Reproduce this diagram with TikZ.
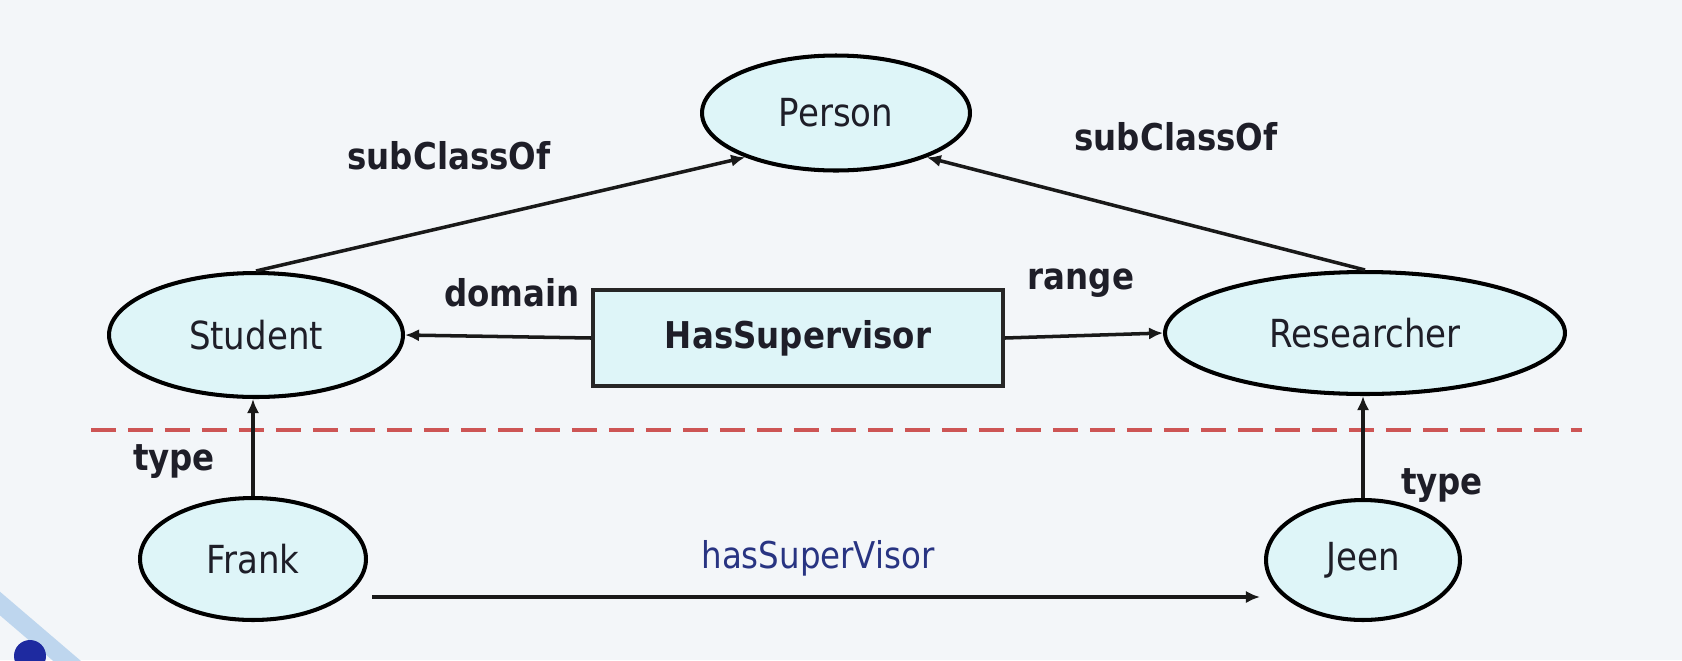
\documentclass[tikz,border=0pt]{standalone}
\usepackage{fontspec}
\setmainfont{DejaVu Sans}[FakeStretch=0.88]
\usetikzlibrary{shapes.geometric,arrows.meta,calc}
\definecolor{bgc}{RGB}{243,246,249}
\definecolor{fillc}{RGB}{222,245,248}
\definecolor{redd}{RGB}{205,85,85}
\definecolor{navy}{RGB}{40,52,130}
\definecolor{txt}{RGB}{30,30,40}
\definecolor{stripe}{RGB}{190,214,238}
\definecolor{dot}{RGB}{30,42,160}
\tikzset{
  cls/.style={ellipse, draw=black, fill=fillc, line width=2.3pt, inner sep=0pt, text=txt, font=\fontsize{22}{26}\selectfont},
  prop/.style={rectangle, draw=black!85, fill=fillc, line width=2.3pt, inner sep=0pt, text=txt, font=\bfseries\fontsize{21}{25}\selectfont},
  lbl/.style={text=txt, font=\bfseries\fontsize{21}{25}\selectfont, inner sep=0pt},
  conn/.style={line width=2pt, black!90, -{Latex[length=8pt,width=7pt]}},
  sep/.style={line width=2.4pt, redd, dash pattern=on 0.5cm off 0.24cm}
}
\begin{document}
\begin{tikzpicture}[x=0.02cm,y=-0.02cm]
\fill[bgc] (0,0) rectangle (1682,660);
\useasboundingbox (0,0) rectangle (1682,660);
% decoration bottom-left
\draw[stripe, line width=0.36cm] (-10,595) -- (80,672);
\fill[dot] (30,656) circle (16);
% nodes
\node[cls, minimum width=5.36cm, minimum height=2.3cm] (person) at (836,113) {Person};
\node[cls, minimum width=5.88cm, minimum height=2.48cm] (student) at (256,335) {Student};
\node[cls, minimum width=8.0cm, minimum height=2.44cm] (researcher) at (1365,333) {Researcher};
\node[prop, minimum width=8.2cm, minimum height=1.92cm] (hs) at (798,338) {HasSupervisor};
\node[cls, minimum width=4.52cm, minimum height=2.44cm] (frank) at (253,559) {Frank};
\node[cls, minimum width=3.88cm, minimum height=2.4cm] (jeen) at (1363,560) {Jeen};
% separator
\coordinate (sepL) at (91,430);
\coordinate (sepR) at (1582,430);
\draw[sep] (sepL) -- (sepR);
% connectors
\draw[conn] (student.north) -- (person.206);
\draw[conn] (researcher.north) -- (person.334);
\draw[conn] (hs.west) -- (student.east);
\draw[conn] (hs.east) -- (researcher.west);
\draw[conn] (frank.north) -- (frank.north |- student.south);
\draw[conn] (jeen.north) -- (jeen.north |- researcher.south);
\coordinate (hsvA) at ($(frank.east)+(4,38)$);
\coordinate (hsvB) at ($(jeen.west)+(-4,37)$);
\draw[conn] (hsvA) -- (hsvB);
% labels
\node[lbl] (lsubL) at (449,156) {subClassOf};
\node[lbl] (lsubR) at (1176,137) {subClassOf};
\node[lbl] (ldom) at (512,293) {domain};
\node[lbl] (lrng) at (1081,283) {range};
\node[lbl] (ltypeL) at (174,462) {type};
\node[lbl] (ltypeR) at (1442,486) {type};
\node[text=navy, font=\fontsize{21}{25}\selectfont, inner sep=0pt] (lhsv) at (818,558) {hasSuperVisor};
\end{tikzpicture}
\end{document}
